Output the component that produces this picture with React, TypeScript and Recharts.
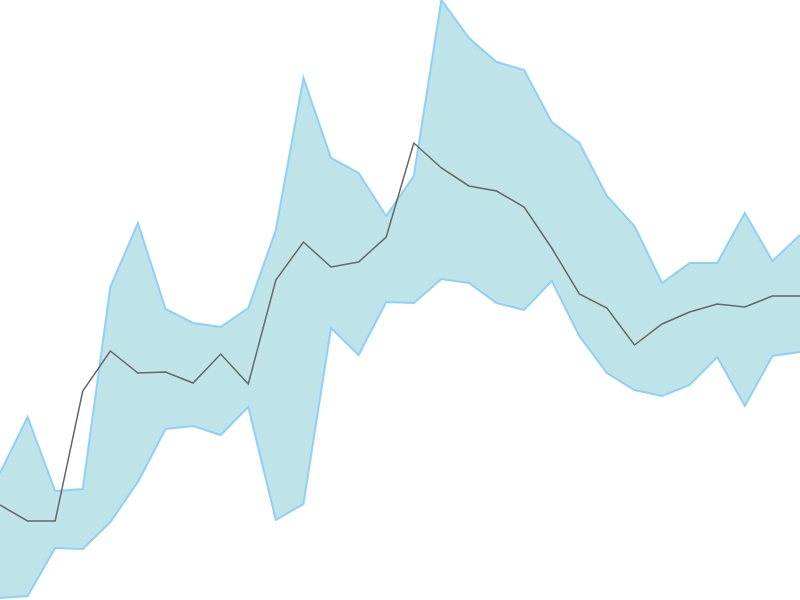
import React from 'react';
import { ComposedChart, Area, Line, XAxis, YAxis } from 'recharts';

// values (0 = bottom edge, 600 = top edge)
const steps = Array.from({ length: 30 }, (_, i) => `${i + 1}`);
const upper = [127, 183, 109, 111, 313, 377, 291, 277, 273, 292, 370, 522, 442, 427, 384, 424, 600, 562, 538, 530, 478, 457, 404, 374, 317, 337, 337, 387, 339, 365];
const lower = [2, 4, 52, 51, 78, 118, 171, 174, 165, 193, 80, 96, 272, 245, 298, 297, 321, 317, 297, 290, 319, 264, 227, 210, 204, 215, 243, 194, 244, 248];
const middle = [95, 79, 79, 209, 249, 227, 228, 217, 246, 216, 320, 358, 333, 338, 363, 457, 432, 414, 409, 393, 352, 306, 292, 255, 276, 288, 296, 293, 304, 304];

const data = steps.map((name, i) => ({
    name,
    band: [lower[i], upper[i]],
    mid: middle[i],
}));

const App: React.FC = () => {
    return (
        <div style={{ position: 'absolute', top: 0, left: 0, width: 800, height: 600, background: '#fff' }}>
            <ComposedChart width={800} height={600} data={data} margin={{ top: 0, right: 0, bottom: 0, left: 0 }}>
                <XAxis dataKey="name" hide />
                <YAxis hide domain={[0, 600]} allowDataOverflow />
                <Area
                    type="linear"
                    dataKey="band"
                    stroke="#8fd0f5"
                    strokeWidth={2}
                    fill="#bee4ea"
                    fillOpacity={1}
                    dot={false}
                    activeDot={false}
                    isAnimationActive={false}
                />
                <Line
                    type="linear"
                    dataKey="mid"
                    stroke="#666666"
                    strokeWidth={1.5}
                    dot={false}
                    activeDot={false}
                    isAnimationActive={false}
                />
            </ComposedChart>
        </div>
    );
};

export default App;
